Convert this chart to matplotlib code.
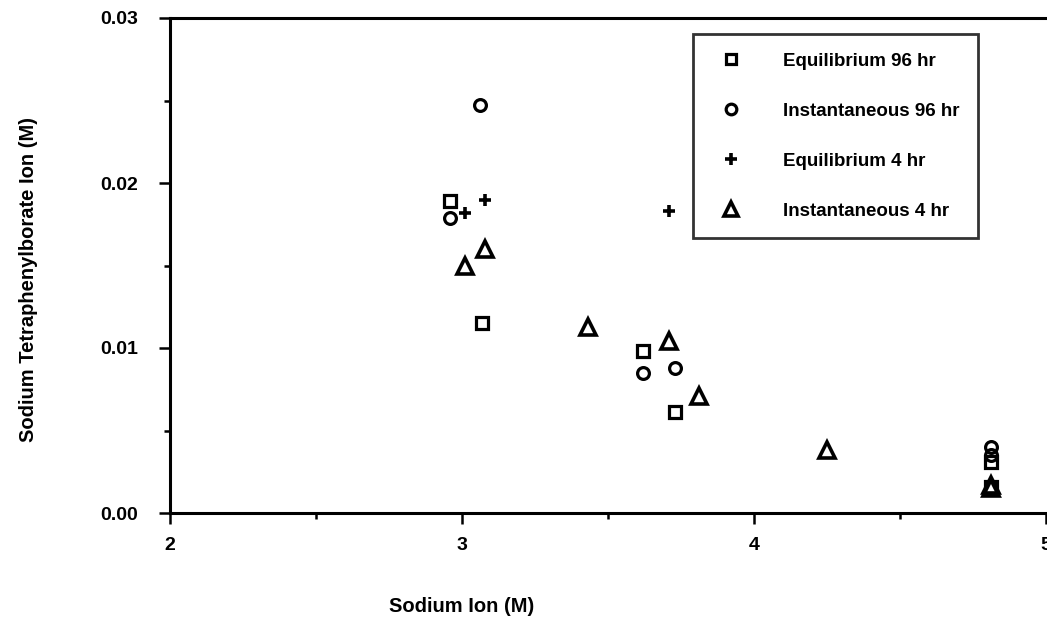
import matplotlib
matplotlib.use("Agg")
import matplotlib.pyplot as plt
from matplotlib.ticker import MultipleLocator, FormatStrFormatter

plt.rcParams["font.family"] = ["Liberation Sans", "DejaVu Sans"]
plt.rcParams["font.weight"] = "bold"

# Equilibrium 96 hr (squares)
eq96_x = [2.96, 3.07, 3.62, 3.73, 4.81, 4.81]
eq96_y = [0.0189, 0.0115, 0.0098, 0.0061, 0.0031, 0.0016]
# Instantaneous 96 hr (circles)
in96_x = [3.06, 2.96, 3.62, 3.73, 4.81, 4.81]
in96_y = [0.0247, 0.0179, 0.0085, 0.0088, 0.0040, 0.0035]
# Equilibrium 4 hr (plus)
eq4_x = [3.01, 3.08, 3.71]
eq4_y = [0.0182, 0.0190, 0.0183]
# Instantaneous 4 hr (triangles)
in4_x = [3.01, 3.08, 3.43, 3.71, 3.81, 4.25, 4.81, 4.81]
in4_y = [0.0150, 0.0160, 0.0113, 0.0104, 0.0071, 0.0038, 0.0017, 0.0015]

W, H = 1047, 620
fig = plt.figure(figsize=(W / 100, H / 100), dpi=100)
ax = fig.add_axes([170 / W, (H - 513) / H, 876 / W, 495 / H])

kw = dict(linestyle="none", color="black", markerfacecolor="none")
ax.plot(eq96_x, eq96_y, marker="s", markersize=8, markeredgewidth=2.3,
        label="Equilibrium 96 hr", **kw)
ax.plot(in96_x, in96_y, marker="o", markersize=8.5, markeredgewidth=2.3,
        label="Instantaneous 96 hr", **kw)
ax.plot(eq4_x, eq4_y, marker="+", markersize=9, markeredgewidth=2.6,
        label="Equilibrium 4 hr", **kw)
ax.plot(in4_x, in4_y, marker="^", markersize=11, markeredgewidth=2.6,
        label="Instantaneous 4 hr", **kw)

ax.set_xlim(2, 5)
ax.set_ylim(0, 0.03)
ax.xaxis.set_major_locator(MultipleLocator(1))
ax.xaxis.set_minor_locator(MultipleLocator(0.5))
ax.yaxis.set_major_locator(MultipleLocator(0.01))
ax.yaxis.set_minor_locator(MultipleLocator(0.005))
ax.yaxis.set_major_formatter(FormatStrFormatter("%.2f"))
ax.tick_params(which="both", direction="out", width=1.8, labelsize=14)
ax.tick_params(which="major", length=8)
ax.tick_params(axis="y", which="major", pad=15)
ax.tick_params(axis="x", which="major", pad=9)
ax.tick_params(which="minor", length=4)

for s in ["left", "bottom", "top"]:
    ax.spines[s].set_linewidth(2.2)
ax.spines["right"].set_visible(False)

fig.text(462 / W, 1 - 607 / H, "Sodium Ion (M)", ha="center", va="center",
         fontsize=14.5, fontweight="bold")
fig.text(29 / W, 1 - 280 / H, "Sodium Tetraphenylborate Ion (M)", ha="center",
         va="center", rotation=90, fontsize=14.5, fontweight="bold")

leg = ax.legend(loc="upper left", bbox_to_anchor=((693 - 170) / 876, 1 - (34 - 18) / 495),
                frameon=True, fancybox=False, edgecolor="black", fontsize=13.5,
                markerscale=0.9, labelspacing=1.75, borderpad=1.0,
                handletextpad=1.8, borderaxespad=0)
leg.get_frame().set_linewidth(2)
for t in leg.get_texts():
    t.set_fontweight("bold")

fig.savefig("out.png", dpi=100)
